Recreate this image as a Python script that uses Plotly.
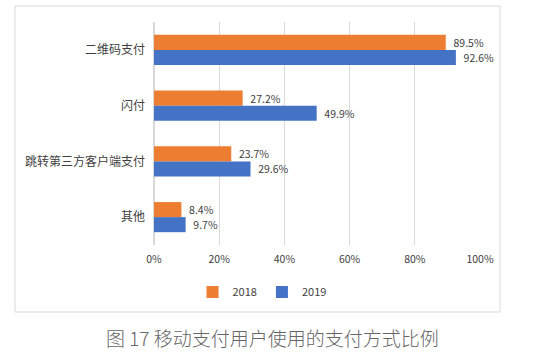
import plotly.graph_objects as go

categories = ["二维码支付", "闪付", "跳转第三方客户端支付", "其他"]
values_2018 = [89.5, 27.2, 23.7, 8.4]
values_2019 = [92.6, 49.9, 29.6, 9.7]
series_names = ["2018", "2019"]
x_ticks = [0, 20, 40, 60, 80, 100]
x_tick_labels = ["0%", "20%", "40%", "60%", "80%", "100%"]
caption = "图 17 移动支付用户使用的支付方式比例"

FONT = "Noto Sans CJK SC"
TXT = "#404040"

W, H = 550, 354
L, R, T, B = 154, 70, 22, 109
pw = W - L - R
ph = H - T - B

def px_x(p):
    return (p - L) / pw

def px_y(p):
    return (H - B - p) / ph

fig = go.Figure()
for name, vals, col in [(series_names[0], values_2018, "#ED7D31"),
                        (series_names[1], values_2019, "#4472C4")]:
    fig.add_trace(go.Bar(
        y=categories, x=vals, name=name, orientation="h",
        marker=dict(color=col, line=dict(width=0)),
        text=[f"\u00a0\u00a0{v:.1f}%" for v in vals], textposition="outside",
        textfont=dict(family=FONT, size=10.5, color=TXT),
        cliponaxis=False,
    ))

fig.update_layout(
    width=W, height=H,
    margin=dict(l=L, r=R, t=T, b=B),
    paper_bgcolor="white", plot_bgcolor="white",
    barmode="group", bargap=0.46, bargroupgap=0,
    font=dict(family=FONT, color=TXT),
    showlegend=True,
    legend=dict(orientation="h", x=px_x(262), y=px_y(292), xanchor="center", yanchor="middle",
                font=dict(family=FONT, size=11, color=TXT), itemwidth=30,
                traceorder="normal", itemclick=False),
    xaxis=dict(range=[0, 100], tickvals=x_ticks, ticktext=x_tick_labels,
               showgrid=True, gridcolor="#D9D9D9", gridwidth=1,
               zeroline=True, zerolinecolor="#D9D9D9", showline=False,
               tickfont=dict(family=FONT, size=10.5, color=TXT), ticklabelstandoff=6),
    yaxis=dict(autorange="reversed", showgrid=False, showline=False, zeroline=False,
               tickfont=dict(family=FONT, size=12, color=TXT), ticklabelstandoff=8),
    shapes=[dict(type="rect", xref="paper", yref="paper",
                 x0=px_x(15), x1=px_x(500), y0=px_y(312), y1=px_y(6),
                 line=dict(color="#D9D9D9", width=1), fillcolor="rgba(0,0,0,0)", layer="below")],
    annotations=[dict(text=caption, xref="paper", yref="paper", x=px_x(272), y=px_y(337),
                      xanchor="center", yanchor="middle", showarrow=False,
                      font=dict(family=FONT, size=19, color="#666666", weight=300))],
)

fig.write_html("out.html")
